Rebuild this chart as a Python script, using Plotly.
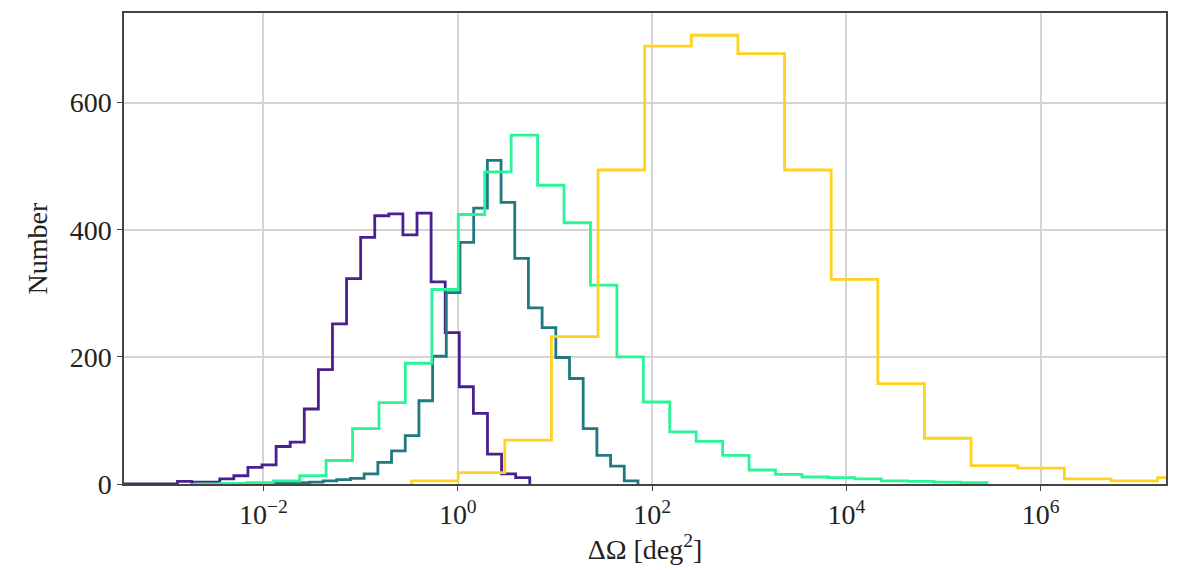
import numpy as np
import plotly.graph_objects as go

# ---- data: step histograms of sky-localisation area (log-spaced bins) ----
# each series: log10 range of its bin edges and the counts per bin
purple_log_range = (-3.466, 0.741)
purple_counts = [0, 0, 0, 0, 4, 3, 3, 8, 13, 26, 30, 59, 66, 118, 180, 252, 323,
                 388, 422, 425, 392, 426, 318, 238, 153, 111, 47, 16, 10]

teal_log_range = (-2.373, 1.855)
teal_counts = [0, 0, 1, 1, 2, 2, 3, 5, 7, 9, 16, 34, 52, 76, 131, 201, 301, 380,
               434, 509, 443, 355, 277, 246, 199, 166, 87, 45, 28, 5]

green_log_range = (-2.716, 5.448)
green_counts = [0, 1, 2, 5, 13, 37, 87, 128, 190, 306, 424, 491, 549, 470, 411,
                313, 200, 129, 82, 67, 45, 22, 15, 11, 10, 8, 5, 4, 3, 2]

yellow_log_range = (-0.476, 7.685)
yellow_counts = [5, 18, 69, 232, 494, 689, 706, 677, 494, 322, 158, 72, 29, 25,
                 8, 5, 10]

series_colors = ["#4a2090", "#1f7a80", "#2af596", "#ffd21f"]

x_tick_vals = [1e-2, 1e0, 1e2, 1e4, 1e6]
x_tick_text = ["10<sup>−2</sup>", "10<sup>0</sup>", "10<sup>2</sup>",
               "10<sup>4</sup>", "10<sup>6</sup>"]
y_tick_vals = [0, 200, 400, 600]

x_title = "ΔΩ [deg<sup>2</sup>]"
y_title = "Number"


def step_xy(log_range, counts):
    edges = np.logspace(log_range[0], log_range[1], len(counts) + 1)
    xs = [edges[0]] + list(edges)
    ys = [0] + list(counts) + [0]
    return xs, ys


fig = go.Figure()
for (rng, cnts), col in zip(
        [(purple_log_range, purple_counts), (teal_log_range, teal_counts),
         (green_log_range, green_counts), (yellow_log_range, yellow_counts)],
        series_colors):
    xs, ys = step_xy(rng, cnts)
    fig.add_trace(go.Scatter(x=xs, y=ys, mode="lines", line_shape="hv",
                             line=dict(color=col, width=2.8),
                             showlegend=False, hoverinfo="skip"))

FONT = "Liberation Serif"
fig.update_layout(
    width=1179, height=570,
    margin=dict(l=124, r=12, t=11, b=86),
    paper_bgcolor="white", plot_bgcolor="white",
    font=dict(family=FONT, size=27, color="#222"),
)
fig.update_xaxes(
    type="log", range=[-3.436, 7.291],
    tickvals=x_tick_vals, ticktext=x_tick_text,
    ticks="outside", ticklen=5, tickwidth=1.2, tickcolor="#444",
    showgrid=True, gridcolor="#d4d4d4", gridwidth=1.5,
    showline=True, linecolor="#444", linewidth=1.5, mirror=True,
    zeroline=False,
    title=dict(text=x_title, standoff=8, font=dict(size=28)),
    tickfont=dict(size=28),
)
fig.update_yaxes(
    range=[0, 741],
    tickvals=y_tick_vals,
    ticks="outside", ticklen=5, tickwidth=1.2, tickcolor="#444",
    showgrid=True, gridcolor="#d4d4d4", gridwidth=1.5,
    showline=True, linecolor="#444", linewidth=1.5, mirror=True,
    zeroline=False,
    title=dict(text=y_title, standoff=14, font=dict(size=28)),
    tickfont=dict(size=28),
)

fig.write_html("out.html")
